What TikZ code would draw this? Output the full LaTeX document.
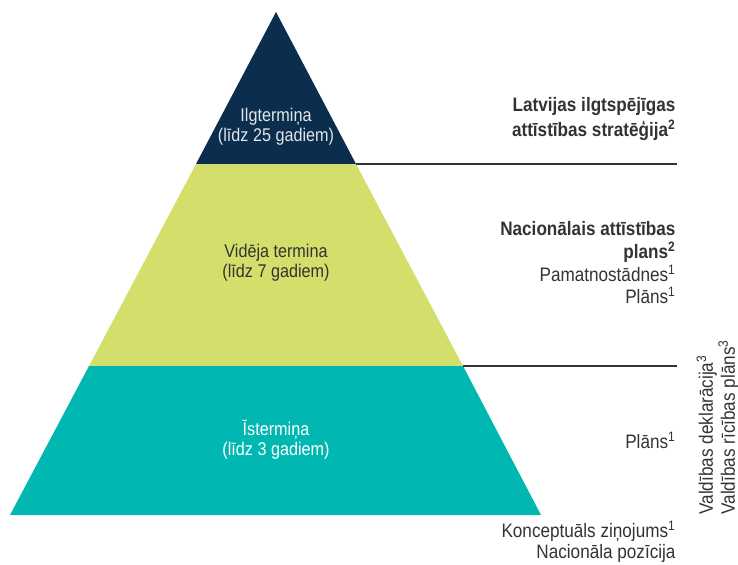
\documentclass[tikz,border=0pt]{standalone}
\usepackage{fontspec}
\setmainfont{Liberation Sans}[FakeStretch=0.88]
\definecolor{navyband}{HTML}{0B2D4E}
\definecolor{limeband}{HTML}{D4DF6B}
\definecolor{tealband}{HTML}{00B8B1}
\definecolor{labelgray}{HTML}{333333}
\tikzset{every picture/.style={line width=0.75pt}}

\begin{document}
\begin{tikzpicture}[x=0.75pt,y=0.75pt,yscale=-1,xscale=1,
    bandtext/.style={inner sep=0.75pt,align=center,font=\fontsize{13.8}{15}\selectfont},
    sidetext/.style={inner sep=0.75pt,align=right,anchor=east,text=labelgray,font=\fontsize{14.6}{17}\selectfont},
    divider/.style={draw=labelgray,line width=1.1pt}]
        \path[use as bounding box] (0,0) rectangle (738,564);

        % corners of the pyramid
        \coordinate (apex) at (276,12);
        \coordinate (topL) at (196,164);
        \coordinate (topR) at (356,164);
        \coordinate (midL) at (89,366);
        \coordinate (midR) at (463,366);
        \coordinate (baseL) at (10,515);
        \coordinate (baseR) at (541,515);
        % free ends of the dividers
        \coordinate (topEnd) at (677,164);
        \coordinate (midEnd) at (677,366);

        %Shape: Triangle [long term]
        \fill[navyband] (apex) -- (topR) -- (topL) -- cycle ;
        %Shape: Trapezoid [medium term]
        \fill[limeband] (topL) -- (topR) -- (midR) -- (midL) -- cycle ;
        %Shape: Trapezoid [short term]
        \fill[tealband] (midL) -- (midR) -- (baseR) -- (baseL) -- cycle ;

        %Straight Lines
        \draw[divider] (topR) -- (topEnd) ;
        %Straight Lines
        \draw[divider] (midR) -- (midEnd) ;

        % Text Node
        \node[bandtext,text=white!88!navyband] (longterm) at (276,127) {Ilgtermiņa\\(līdz 25 gadiem)};
        % Text Node
        \node[bandtext,text=labelgray] (midterm) at (276,263) {Vidēja termina\\(līdz 7 gadiem)};
        % Text Node
        \node[bandtext,text=white] (shortterm) at (276,440) {Īstermiņa\\(līdz 3 gadiem)};

        % Text Node
        \node[sidetext,font=\fontsize{14.6}{18.75}\selectfont\bfseries] (strategy) at (677,119) {Latvijas ilgtspējīgas\\attīstības stratēģija\textsuperscript{2}};
        % Text Node
        \node[sidetext] (nap) at (677,263) {\textbf{Nacionālais attīstības}\\\textbf{plans\textsuperscript{2}}\\Pamatnostādnes\textsuperscript{1}\\Plāns\textsuperscript{1}};
        % Text Node
        \node[sidetext] (shortplan) at (677,440) {Plāns\textsuperscript{1}};
        % Text Node
        \node[sidetext,font=\fontsize{14.6}{16}\selectfont] (report) at (677,542) {Konceptuāls ziņojums\textsuperscript{1}\\Nacionāla pozīcija};
        % Text Node
        \node[inner sep=0.75pt,align=left,rotate=90,anchor=north west,text=labelgray,font=\fontsize{14.6}{14.6}\selectfont] (government) at (695,516) {Valdības deklarācija\textsuperscript{3}\\Valdības rīcības plāns\textsuperscript{3}};

\end{tikzpicture}
\end{document}
